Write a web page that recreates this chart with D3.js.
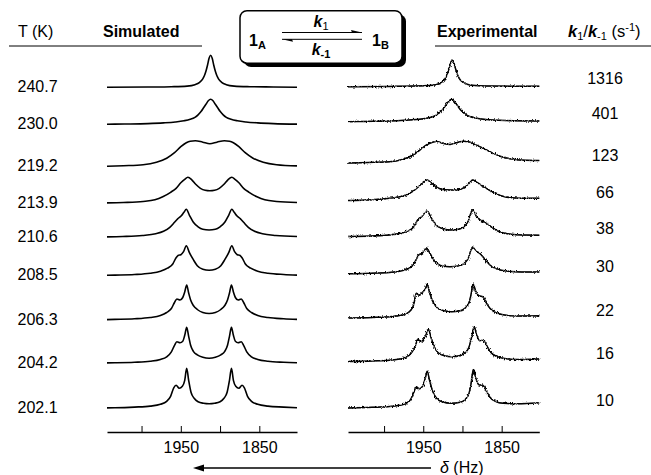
<!DOCTYPE html>
<html>
<head>
<meta charset="utf-8">
<script src="https://cdn.jsdelivr.net/npm/d3@7"></script>
<style>
  body { margin: 0; background: #fff; }
  svg { display: block; font-family: "Liberation Sans", Arial, sans-serif; }
</style>
</head>
<body>
<div id="chart"></div>
<script>
// row labels
var temps = ['240.7', '230.0', '219.2', '213.9', '210.6', '208.5', '206.3', '204.2', '202.1'];
var rates = ['1316', '401', '123', '66', '38', '30', '22', '16', '10'];
var tickValues = [2000, 1950, 1900, 1850];
var tickLabels = [1950, 1850];

// simulated spectra, [delta (Hz), intensity]
var sim2407 = [[2044,0],[1992,0.3],[1962,0.6],[1942,1.2],[1932,2.6],[1926,5],[1922,8.5],[1920,11.5],[1918,16],[1916,22],[1914,29],[1912,32],[1910,29],[1908,22],[1906,16],[1904,11.5],[1902,8.5],[1898,5],[1892,2.6],[1882,1.2],[1862,0.6],[1832,0.3],[1802,0]];
var sim2300 = [[2044,0.1],[2022,0.3],[1992,0.7],[1972,1.4],[1957,2.3],[1946,3.5],[1938,5],[1932,7],[1928,9.5],[1924,13],[1921,16.5],[1918,20],[1915,23.5],[1912,25],[1909,23.5],[1906,20],[1903,16.5],[1900,13],[1896,9.5],[1892,7],[1886,5],[1878,3.5],[1867,2.3],[1852,1.4],[1832,0.7],[1802,0.2]];
var sim2192 = [[2044,0.4],[2023,1],[1998,2],[1981,4.5],[1968,8.5],[1958,14],[1950,20],[1943,24],[1938,25.5],[1931.5,26],[1922,24.5],[1913,23],[1904,24.5],[1894.5,26],[1888,25.5],[1883,24],[1876,20],[1868,14],[1858,8.5],[1845,4.5],[1828,2],[1802,0.8]];
var sim2139 = [[2044,0.4],[2023,0.8],[1998,1.8],[1983,3.5],[1973,6.5],[1963,11],[1956,15],[1950,20.5],[1945,24],[1941,26],[1936,23.5],[1931,19],[1925,15],[1919,13],[1913,12.5],[1907,13],[1901,15],[1895,19],[1890,23.5],[1885,26],[1881,24],[1876,20.5],[1870,15],[1863,11],[1853,6.5],[1843,3.5],[1828,1.8],[1802,0.8]];
var sim2106 = [[2044,0.4],[2024,0.8],[1999,1.8],[1982,3.5],[1972,6],[1964,10],[1958,15],[1954,18.5],[1950,21],[1946,25],[1943,28],[1939,22],[1934,15],[1928,10.5],[1922,8],[1914,7.3],[1906,8],[1900,10.5],[1894,15],[1889,22],[1885,28],[1882,25],[1878,21],[1874,18.5],[1870,15],[1864,10],[1856,6],[1846,3.5],[1829,1.8],[1802,0.8]];
var sim2085 = [[2044,0.4],[2034,0.6],[2009,1.2],[1989,2.5],[1976,4.5],[1967,7.5],[1960,12],[1956,18],[1953,20.5],[1950,21],[1946.5,24],[1943,30],[1939,23],[1934,16],[1929,10],[1922,6.5],[1914,5.5],[1906,6.5],[1899,10],[1894,16],[1889,23],[1885,30],[1881.5,24],[1878,21],[1875,20.5],[1872,18],[1868,12],[1861,7.5],[1852,4.5],[1839,2.5],[1819,1.2],[1802,0.6]];
var sim2063 = [[2044,0.4],[2034,0.6],[2009,1.2],[1989,2.5],[1976,4.5],[1968,7.5],[1962,11.5],[1958,17.5],[1955,21],[1951,20],[1947.5,22.5],[1945,28],[1942.5,35],[1940,27],[1937.5,20],[1934,14.5],[1929,10.5],[1922,7.5],[1914,6.5],[1906,7.5],[1899,10.5],[1894,14.5],[1890.5,20],[1888,27],[1885.5,35],[1883,28],[1880.5,22.5],[1877,20],[1873,21],[1870,17.5],[1866,11.5],[1860,7.5],[1852,4.5],[1839,2.5],[1819,1.2],[1802,0.6]];
var sim2042 = [[2044,0.4],[2034,0.5],[2009,1],[1989,2],[1976,3.8],[1968,6.5],[1962,11.5],[1958,18],[1955,21.5],[1951,20.5],[1947.5,22],[1945,28],[1942.5,36],[1940,27],[1937.5,18],[1934,12],[1929,8.5],[1922,6],[1914,5],[1906,6],[1899,8.5],[1894,12],[1890.5,18],[1888,27],[1885.5,36],[1883,28],[1880.5,22],[1877,20.5],[1873,21.5],[1870,18],[1866,11.5],[1860,6.5],[1852,3.8],[1839,2],[1819,1],[1802,0.5]];
var sim2021 = [[2044,0.4],[2034,0.5],[2009,1.2],[1989,2.2],[1976,4],[1968,7],[1963,12],[1959,20.5],[1956,23],[1952,20],[1948,22],[1945,28],[1942.5,40],[1940,28],[1937,16],[1933,10],[1928,6.5],[1921,5],[1914,4.5],[1907,5],[1900,6.5],[1895,10],[1891,16],[1888,28],[1885.5,40],[1883,28],[1880,22],[1876,20],[1872,23],[1869,20.5],[1865,12],[1860,7],[1852,4],[1839,2.2],[1819,1.2],[1802,0.5]];

// experimental spectra, [delta (Hz), intensity]
var exp2407 = [[2046,0],[1993,0.3],[1963,0.6],[1943,1.1],[1933,2.2],[1927,4.2],[1923,7],[1921,9.5],[1919,13.5],[1917,18.5],[1915,24],[1913,27],[1911,24],[1909,18.5],[1907,13.5],[1905,9.5],[1903,7],[1899,4.2],[1893,2.2],[1883,1.1],[1863,0.6],[1833,0.4],[1802,0.5]];
var exp2300 = [[2046,0],[2024,0.3],[1994,0.7],[1974,1.4],[1959,2.2],[1948,3.2],[1940,4.5],[1934,6.3],[1930,8.5],[1926,11.5],[1923,14.5],[1920,18],[1917,21],[1914,22.4],[1911,21],[1908,18],[1905,14.5],[1902,11.5],[1898,8.5],[1894,6.3],[1888,4.5],[1880,3.2],[1869,2.2],[1854,1.4],[1834,0.9],[1802,0.8]];
var exp2192 = [[2046,0.3],[2020,0.8],[1993,1.6],[1978,3.5],[1963,8.3],[1954,13.5],[1946,18.3],[1940,20.5],[1933,21.8],[1925,20],[1916,18.8],[1908,20.5],[1899,22],[1890,21],[1882,18],[1873,15],[1865,11.6],[1852,7],[1835,4],[1820,3],[1802,2.8]];
var exp2139 = [[2046,0.2],[2015,1],[1993,2.4],[1980,4],[1971,6],[1963,9.5],[1956,14],[1950,18.5],[1945,20.7],[1940,18],[1934,14],[1927,11.5],[1916,10.7],[1905,11],[1898,13],[1892,17],[1887,20.7],[1882,18.5],[1876,15.5],[1869,12],[1861,8.5],[1851,5],[1837,3],[1820,2.4],[1802,2.5]];
var exp2106 = [[2046,0.3],[2015,0.8],[1993,1.8],[1980,3.2],[1970,5.5],[1962,10],[1957,17],[1952,20],[1945,25.7],[1940,19],[1934,12],[1927,8.5],[1916,6.7],[1905,7.5],[1898,10],[1893,15],[1887,27],[1882,20],[1876,16],[1869,13.4],[1862,9],[1853,5],[1840,2.6],[1822,1.6],[1802,1.5]];
var exp2085 = [[2046,0.3],[2015,0.8],[1993,1.6],[1980,2.8],[1970,5],[1963,9],[1958,16],[1956,19],[1951,21],[1946,26],[1941,20],[1935,12.5],[1928,8.5],[1916,7.3],[1905,8],[1898,10.5],[1893,15],[1887,27],[1883,23],[1878,20.7],[1872,15.5],[1865,9],[1856,5],[1842,2.8],[1824,2],[1802,2]];
var exp2063 = [[2046,0.3],[2015,0.8],[1993,1.6],[1980,2.8],[1972,4.5],[1966,8],[1962,14],[1959,25],[1955,23],[1951,26],[1947,30],[1945,34.3],[1942,26],[1938,17],[1933,11],[1926,8],[1914,6.6],[1903,7.5],[1897,10],[1892,15],[1889,24],[1886.5,34.3],[1883,27],[1879,22.5],[1874,21.6],[1870,16],[1865,10],[1858,6],[1848,3.5],[1830,2.2],[1802,2.5]];
var exp2042 = [[2046,0.3],[2015,0.8],[1993,1.5],[1980,2.6],[1972,4.5],[1965,9],[1960,16],[1957,22.4],[1953,20],[1949,23],[1946,28],[1943.5,32.4],[1940,24],[1936,15],[1931,9],[1923,6],[1914,5],[1904,6],[1897,9],[1892,14],[1888.5,24],[1885,35],[1882,27],[1878,21],[1873,21.7],[1869,16],[1864,9.5],[1857,5.5],[1846,3.2],[1828,2.2],[1802,2.6]];
var exp2021 = [[2046,0.3],[2015,1],[1993,1.8],[1980,3],[1972,5],[1966,9],[1962,16],[1959,21.6],[1955,19.5],[1951,22],[1947.5,30],[1945,37],[1942,28],[1938,17],[1933,10],[1926,6.5],[1914,5],[1903,6],[1897,8.5],[1892,14],[1889,25],[1886,39],[1883,30],[1879,23.5],[1874,23],[1870,18],[1865,11],[1858,7],[1848,5],[1830,4.5],[1802,5.5]];

var simulated = [sim2407, sim2300, sim2192, sim2139, sim2106, sim2085, sim2063, sim2042, sim2021];
var experimental = [exp2407, exp2300, exp2192, exp2139, exp2106, exp2085, exp2063, exp2042, exp2021];

// layout
var width = 651,
    height = 475,
    axisY = 432;

var simBase = [87.3, 124.3, 166.7, 203.3, 237.3, 275.7, 320, 363.3, 408.3];
var expBase = [86.7, 121.7, 163.3, 200.7, 236.7, 274, 318.3, 361.7, 408.3];

var svg = d3.select('#chart')
    .append('svg')
    .attr('width', width)
    .attr('height', height);

svg.append('rect').attr('width', width).attr('height', height).attr('fill', '#fff');

// jagged look of the measured traces
var defs = svg.append('defs');
var noise = defs.append('filter')
    .attr('id', 'noise')
    .attr('x', '-3%').attr('y', '-60%')
    .attr('width', '106%').attr('height', '220%');
noise.append('feTurbulence')
    .attr('type', 'fractalNoise')
    .attr('baseFrequency', '0.9 0.5')
    .attr('numOctaves', 2)
    .attr('seed', 4)
    .attr('result', 'turb');
noise.append('feDisplacementMap')
    .attr('in', 'SourceGraphic')
    .attr('in2', 'turb')
    .attr('scale', 3.6)
    .attr('xChannelSelector', 'R')
    .attr('yChannelSelector', 'G');

var xSim = d3.scaleLinear().domain([2044, 1802]).range([107, 297]);
var xExp = d3.scaleLinear().domain([2046, 1802]).range([348, 539.3]);
var amp = d3.scaleLinear().domain([0, 40]).range([0, 40]);
var simRow = d3.scaleOrdinal().domain(temps).range(simBase);
var expRow = d3.scaleOrdinal().domain(temps).range(expBase);

function trace(xs, base) {
    return d3.line()
        .x(function (d) { return xs(d[0]); })
        .y(function (d) { return base - amp(d[1]); })
        .curve(d3.curveMonotoneX);
}

svg.append('g')
    .selectAll('path')
    .data(simulated)
    .join('path')
    .attr('d', function (d, i) { return trace(xSim, simRow(temps[i]))(d); })
    .attr('fill', 'none')
    .attr('stroke', '#000')
    .attr('stroke-width', 1.6)
    .attr('stroke-linejoin', 'round');

var expG = svg.append('g');
expG.selectAll('path.core')
    .data(experimental)
    .join('path')
    .attr('class', 'core')
    .attr('d', function (d, i) { return trace(xExp, expRow(temps[i]))(d); })
    .attr('fill', 'none')
    .attr('stroke', '#333')
    .attr('stroke-width', 0.9);
expG.selectAll('path.fuzz')
    .data(experimental)
    .join('path')
    .attr('class', 'fuzz')
    .attr('d', function (d, i) { return trace(xExp, expRow(temps[i]))(d); })
    .attr('fill', 'none')
    .attr('stroke', '#000')
    .attr('stroke-width', 1.5)
    .attr('filter', 'url(#noise)');

// axes
function hzAxis(xs) {
    return d3.axisBottom(xs)
        .tickValues(tickValues)
        .tickSize(-6)
        .tickSizeOuter(0)
        .tickPadding(10)
        .tickFormat(function (d) { return tickLabels.indexOf(d) >= 0 ? d : ''; });
}

[xSim, xExp].forEach(function (xs) {
    var g = svg.append('g')
        .attr('transform', 'translate(0,' + axisY + ')')
        .call(hzAxis(xs));
    g.select('.domain').attr('stroke-width', 1.5);
    g.selectAll('.tick line').attr('stroke-width', 1);
    g.selectAll('text')
        .attr('font-family', '"Liberation Sans", Arial, sans-serif')
        .attr('font-size', 16)
        .attr('fill', '#000');
});

// row labels
svg.append('g')
    .selectAll('text')
    .data(temps)
    .join('text')
    .attr('x', 17.5)
    .attr('y', function (d) { return simRow(d) - 1; })
    .attr('dy', '0.35em')
    .attr('font-size', 16)
    .text(function (d) { return d; });

svg.append('g')
    .selectAll('text')
    .data(rates)
    .join('text')
    .attr('x', 605)
    .attr('y', function (d, i) { return expRow(temps[i]) - 8; })
    .attr('dy', '0.35em')
    .attr('text-anchor', 'middle')
    .attr('font-size', 16)
    .text(function (d) { return d; });

// headers
svg.append('text').attr('x', 18).attr('y', 37).attr('font-size', 16).text('T (K)');
svg.append('text').attr('x', 103).attr('y', 37).attr('font-size', 16).attr('font-weight', 'bold').text('Simulated');
svg.append('text').attr('x', 437).attr('y', 37).attr('font-size', 16).attr('font-weight', 'bold').text('Experimental');

var kHead = svg.append('text').attr('x', 568).attr('y', 37).attr('font-size', 16.5);
kHead.append('tspan').attr('font-weight', 'bold').attr('font-style', 'italic').text('k');
kHead.append('tspan').attr('font-size', 11).attr('dy', 3).text('1');
kHead.append('tspan').attr('dy', -3).text('/');
kHead.append('tspan').attr('font-weight', 'bold').attr('font-style', 'italic').text('k');
kHead.append('tspan').attr('font-size', 11).attr('dy', 3).text('-1');
kHead.append('tspan').attr('dy', -3).text(' (s');
kHead.append('tspan').attr('font-size', 11).attr('dy', -6).text('-1');
kHead.append('tspan').attr('dy', 6).text(')');

svg.append('line').attr('x1', 9).attr('x2', 202).attr('y1', 46).attr('y2', 46).attr('stroke', '#000').attr('stroke-width', 1);
svg.append('line').attr('x1', 435).attr('x2', 651).attr('y1', 46).attr('y2', 46).attr('stroke', '#000').attr('stroke-width', 1);

// equilibrium box
var box = svg.append('g');
box.append('rect').attr('x', 244).attr('y', 14.5).attr('width', 162).attr('height', 52.5).attr('rx', 7).attr('fill', '#000');
box.append('rect').attr('x', 240).attr('y', 10.7).attr('width', 162).attr('height', 52.5).attr('rx', 7)
    .attr('fill', '#fff').attr('stroke', '#000').attr('stroke-width', 1.5);

function species(xp, sub) {
    var t = box.append('text').attr('x', xp).attr('y', 45.5).attr('font-size', 16).attr('font-weight', 'bold');
    t.append('tspan').text('1');
    t.append('tspan').attr('font-size', 11).attr('dy', 3).text(sub);
}
species(249, 'A');
species(372, 'B');

var k1 = box.append('text').attr('x', 321).attr('y', 26.5).attr('text-anchor', 'middle').attr('font-size', 16);
k1.append('tspan').attr('font-weight', 'bold').attr('font-style', 'italic').text('k');
k1.append('tspan').attr('font-size', 11).attr('dy', 3).text('1');

var km1 = box.append('text').attr('x', 321).attr('y', 55).attr('text-anchor', 'middle').attr('font-size', 16);
km1.append('tspan').attr('font-weight', 'bold').attr('font-style', 'italic').text('k');
km1.append('tspan').attr('font-size', 11).attr('font-weight', 'bold').attr('dy', 3).text('-1');

box.append('line').attr('x1', 282).attr('x2', 362).attr('y1', 32.5).attr('y2', 32.5).attr('stroke', '#000').attr('stroke-width', 1);
box.append('path').attr('d', 'M362,32.5 L351,30 L352,32.5 Z').attr('fill', '#000');
box.append('line').attr('x1', 282).attr('x2', 362).attr('y1', 39.3).attr('y2', 39.3).attr('stroke', '#000').attr('stroke-width', 1);
box.append('path').attr('d', 'M282,39.3 L293,41.8 L292,39.3 Z').attr('fill', '#000');

// delta arrow
svg.append('line').attr('x1', 200).attr('x2', 431).attr('y1', 468).attr('y2', 468).attr('stroke', '#000').attr('stroke-width', 1.3);
svg.append('path').attr('d', 'M193,468 L204,464.5 L204,471.5 Z').attr('fill', '#000');
var dl = svg.append('text').attr('x', 440).attr('y', 473).attr('font-size', 16);
dl.append('tspan').attr('font-style', 'italic').text('\u03b4');
dl.append('tspan').text(' (Hz)');
</script>
</body>
</html>
